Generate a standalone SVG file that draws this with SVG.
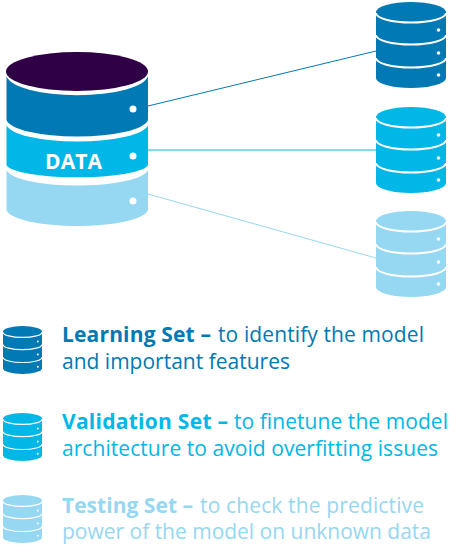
<svg xmlns="http://www.w3.org/2000/svg" xmlns:xlink="http://www.w3.org/1999/xlink" width="450" height="546" viewBox="0 0 450 546">
<style>
.dark{fill:#0079b4;color:#0079b4}
.cyan{fill:#00b7e8;color:#00b7e8}
.light{fill:#96d7f2;color:#96d7f2}
.band{stroke:#fff;stroke-width:2;fill:none}
.dot{fill:#fff}
text{font-family:"Open Sans","Noto Sans","Liberation Sans",sans-serif;font-size:21px;font-weight:400}
.b{font-weight:700}
.lnk{fill:none;stroke-width:1}
</style>
<defs>
<g id="cyl">
<path fill="currentColor" d="M376 12A35 10 0 0 1 446 12V78A35 10 0 0 1 376 78Z"/>
<path class="band" d="M376 13A35 9.500 0 0 0 446 13"/>
<path class="band" d="M376 35A35 9.500 0 0 0 446 35"/>
<path class="band" d="M376 58A35 9.500 0 0 0 446 58"/>
<circle class="dot" cx="438.500" cy="30" r="1.800"/>
<circle class="dot" cx="438.500" cy="53" r="1.800"/>
<circle class="dot" cx="438.500" cy="75" r="1.800"/>
</g>
</defs>
<g id="connectors">
<path class="lnk" stroke="#0079b4" d="M148 106L376 51"/>
<path class="lnk" stroke="#00b7e8" d="M148 150H376"/>
<path class="lnk" stroke="#96d7f2" d="M148 194L376 258"/>
</g>
<g id="data">
<path fill="#96d7f2" d="M6.500 170A71 17 0 0 0 148 170V210A71 17.500 0 0 1 6.500 210Z"/>
<path fill="#00b7e8" d="M6.500 125A71 18 0 0 0 148 125V165A71 13.500 0 0 1 6.500 165Z"/>
<path fill="#0079b4" d="M6.500 76A71 21 0 0 0 148 76V120A71 18 0 0 1 6.500 120Z"/>
<ellipse cx="77" cy="71.500" rx="71" ry="19.500" fill="#2f0045"/>
<circle class="dot" cx="133" cy="109" r="3.500"/>
<circle class="dot" cx="133" cy="156" r="3.500"/>
<circle class="dot" cx="133" cy="201" r="3.500"/>
<text x="45" y="169" class="b" fill="#fff" textLength="57" style="font-size:21px">DATA</text>
</g>
<g id="learning-db" class="dark"><use xlink:href="#cyl"/></g>
<g id="validation-db" class="cyan"><use xlink:href="#cyl" y="105"/></g>
<g id="testing-db" class="light"><use xlink:href="#cyl" y="209"/></g>
<g id="learning-legend" class="dark">
<use xlink:href="#cyl" transform="translate(3 326) scale(.557) translate(-376 -2)"/>
<text y="342"><tspan class="b" x="62" textLength="149">Learning Set –</tspan><tspan x="218" textLength="206">to identify the model</tspan></text>
<text x="62" y="369" textLength="228">and important features</text>
</g>
<g id="validation-legend" class="cyan">
<use xlink:href="#cyl" transform="translate(3 413) scale(.557) translate(-376 -2)"/>
<text y="429"><tspan class="b" x="62" textLength="166">Validation Set –</tspan><tspan x="234" textLength="214">to finetune the model</tspan></text>
<text x="62" y="456" textLength="376">architecture to avoid overfitting issues</text>
</g>
<g id="testing-legend" class="light">
<use xlink:href="#cyl" transform="translate(3 495) scale(.557) translate(-376 -2)"/>
<text y="513"><tspan class="b" x="62" textLength="131">Testing Set –</tspan><tspan x="200" textLength="224">to check the predictive</tspan></text>
<text x="62" y="539" textLength="369">power of the model on unknown data</text>
</g>
</svg>
